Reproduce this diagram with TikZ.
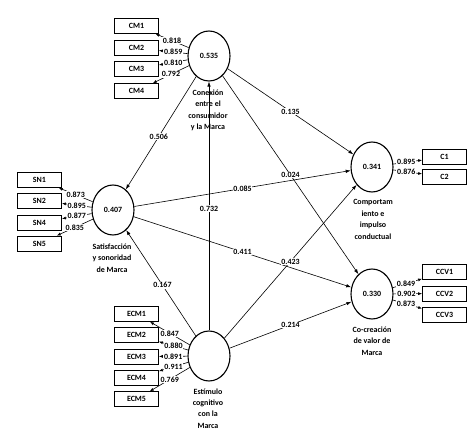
\documentclass[tikz,border=0pt]{standalone}
\usepackage{fontspec}
\setmainfont{Carlito}
\usetikzlibrary{arrows.meta,shapes.geometric}

\begin{document}
\begin{tikzpicture}[x=1bp,y=-1bp,
    font=\fontsize{8}{11.5}\selectfont\bfseries,
    latent/.style={draw,ellipse,line width=1.1pt,minimum width=42bp,minimum height=50bp,inner sep=0pt},
    indicator/.style={draw,rectangle,line width=0.7pt,minimum width=44bp,minimum height=15bp,inner sep=0pt},
    lvname/.style={align=center,inner sep=0pt},
    coef/.style={fill=white,inner sep=0.8pt},
    structural/.style={line width=0.6pt,-{Latex[length=5pt,width=3.5pt]}},
    loading/.style={line width=0.6pt,-{Latex[length=4pt,width=3pt]}}]
  \useasboundingbox (0,0) rectangle (469,434);

  % constructs
  \node[latent] (cm) at (209,56) {0.535};
  \node[latent] (sn) at (113,210) {0.407};
  \node[latent] (ecm) at (209,356) {};
  \node[latent] (c) at (372,167) {0.341};
  \node[latent] (ccv) at (372,294) {0.330};

  \node[lvname] (cmname) at (208,110.5) {Conexión\\entre el\\consumidor\\y la Marca};
  \node[lvname] (snname) at (112,258) {Satisfacción\\y sonoridad\\de Marca};
  \node[lvname] (ecmname) at (208,408.5) {Estímulo\\cognitivo\\con la\\Marca};
  \node[lvname] (cname) at (373,219.5) {Comportam\\iento e\\impulso\\conductual};
  \node[lvname] (ccvname) at (372,341) {Co-creación\\de valor de\\Marca};

  % indicators
  \foreach \i/\y in {1/26,2/48,3/69,4/91}
    \node[indicator] (cm\i) at (136.5,\y) {CM\i};
  \foreach \i/\y in {1/180,2/200.5,4/222.5,5/243.5}
    \node[indicator] (sn\i) at (39.5,\y) {SN\i};
  \foreach \i/\y in {1/314,2/335.3,3/356.6,4/377.9,5/399.2}
    \node[indicator] (ecm\i) at (136.5,\y) {ECM\i};
  \foreach \i/\y in {1/157,2/177}
    \node[indicator] (c\i) at (444.5,\y) {C\i};
  \foreach \i/\y in {1/272,2/293.5,3/315}
    \node[indicator] (ccv\i) at (444.5,\y) {CCV\i};

  % outer loadings
  \foreach \i/\v in {1/0.818,2/0.859,3/0.810,4/0.792}
    \draw[loading] (cm) -- (cm\i) node[coef,pos=0.5] {\v};
  \foreach \i/\v in {1/0.873,2/0.895,4/0.877,5/0.835}
    \draw[loading] (sn) -- (sn\i) node[coef,pos=0.5] {\v};
  \foreach \i/\v in {1/0.847,2/0.880,3/0.891,4/0.911,5/0.769}
    \draw[loading] (ecm) -- (ecm\i) node[coef,pos=0.5] {\v};
  \foreach \i/\v in {1/0.895,2/0.876}
    \draw[loading] (c) -- (c\i) node[coef,pos=0.45] {\v};
  \foreach \i/\v in {1/0.849,2/0.902,3/0.873}
    \draw[loading] (ccv) -- (ccv\i) node[coef,pos=0.45] {\v};

  % path coefficients
  \draw[structural] (sn) -- (c) node[coef,midway] {0.085};
  \draw[structural] (sn) -- (ccv) node[coef,midway] {0.411};
  \draw[structural] (cm) -- (c) node[coef,midway] {0.135};
  \draw[structural] (cm) -- (ccv) node[coef,midway] {0.024};
  \draw[structural] (ecm) -- (c) node[coef,midway] {0.423};
  \draw[structural] (ecm) -- (ccv) node[coef,midway] {0.214};
  \draw[structural] (ecm) -- (cm) node[coef,pos=0.49] {0.732};
  \draw[structural] (cm) -- (sn) node[coef,pos=0.53] {0.506};
  \draw[structural] (ecm) -- (sn) node[coef,pos=0.48] {0.167};
\end{tikzpicture}
\end{document}
